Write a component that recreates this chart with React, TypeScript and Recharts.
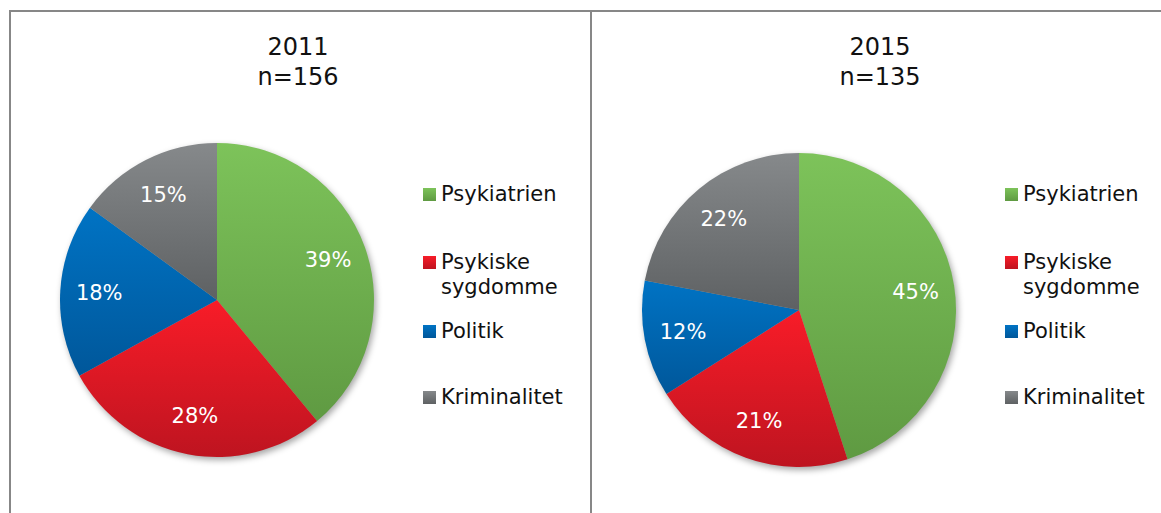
import React from 'react';
import { PieChart, Pie, Cell } from 'recharts';

const categories = ['Psykiatrien', 'Psykiske sygdomme', 'Politik', 'Kriminalitet'];
const legendLines = [['Psykiatrien'], ['Psykiske', 'sygdomme'], ['Politik'], ['Kriminalitet']];
const values2011 = [39, 28, 18, 15];
const values2015 = [45, 21, 12, 22];
const titles = [['2011', 'n=156'], ['2015', 'n=135']];

const colorTop = ['#7dc35a', '#f81c28', '#0073c4', '#86898b'];
const colorBottom = ['#5f9a42', '#be1420', '#00579a', '#5e6163'];

const data2011 = categories.map((name, i) => ({ name, value: values2011[i] }));
const data2015 = categories.map((name, i) => ({ name, value: values2015[i] }));
const shadowData = [{ name: 'shadow', value: 1 }];

const FONT = '"DejaVu Sans", Verdana, sans-serif';
const RAD = Math.PI / 180;

const renderLabel = (props: any) => {
  const { cx, cy, midAngle, value } = props;
  const r = 118;
  const x = cx + r * Math.cos(-midAngle * RAD);
  const y = cy + r * Math.sin(-midAngle * RAD);
  return (
    <text x={x} y={y} fill="#ffffff" textAnchor="middle" dominantBaseline="central"
      style={{ fontFamily: FONT, fontSize: 21 }}>
      {`${value}%`}
    </text>
  );
};

const pies = [
  { data: data2011, cx: 217, cy: 300 },
  { data: data2015, cx: 799, cy: 310 },
];
const R = 157;

const legendTops = [195, 263, 332, 398];
const legendX = [423, 1005];
const titleX = [298, 880];

export default function App() {
  return (
    <div style={{ position: 'absolute', left: 0, top: 0, width: 1161, height: 513, overflow: 'hidden', background: '#fff' }}>
      <div style={{ position: 'absolute', left: 9, top: 10, width: 1200, height: 600, borderLeft: '2px solid #878787', borderTop: '2px solid #878787' }} />
      <div style={{ position: 'absolute', left: 590, top: 10, width: 2, height: 600, background: '#878787' }} />
      {titles.map((t, k) => (
        <div key={k} style={{ position: 'absolute', left: titleX[k] - 100, top: 32, width: 200, textAlign: 'center', fontFamily: FONT, fontSize: 24, lineHeight: '30px', color: '#111' }}>
          <div>{t[0]}</div>
          <div>{t[1]}</div>
        </div>
      ))}
      <div style={{ position: 'absolute', left: 0, top: 0 }}>
        <PieChart width={1161} height={513} margin={{ top: 0, right: 0, bottom: 0, left: 0 }}>
          <defs>
            {categories.map((c, i) => (
              <linearGradient key={c} id={`g${i}`} x1="0" y1="0" x2="0" y2="1">
                <stop offset="0%" stopColor={colorTop[i]} />
                <stop offset="100%" stopColor={colorBottom[i]} />
              </linearGradient>
            ))}
            <filter id="blur" x="-20%" y="-20%" width="140%" height="140%">
              <feGaussianBlur stdDeviation="3" />
            </filter>
          </defs>
          {pies.map((p, k) => (
            <Pie key={`s${k}`} data={shadowData} dataKey="value" cx={p.cx + 2} cy={p.cy + 3} outerRadius={R}
              startAngle={90} endAngle={-270} isAnimationActive={false} stroke="none" label={false} labelLine={false}>
              <Cell fill="rgba(0,0,0,0.35)" filter="url(#blur)" />
            </Pie>
          ))}
          {pies.map((p, k) => (
            <Pie key={`p${k}`} data={p.data} dataKey="value" nameKey="name" cx={p.cx} cy={p.cy} outerRadius={R}
              startAngle={90} endAngle={-270} isAnimationActive={false} stroke="none"
              label={renderLabel} labelLine={false}>
              {p.data.map((d, i) => (
                <Cell key={d.name} fill={`url(#g${i})`} />
              ))}
            </Pie>
          ))}
        </PieChart>
      </div>
      {legendX.map((lx, k) => (
        <div key={k}>
          {legendLines.map((lines, i) => (
            <div key={i} style={{ position: 'absolute', left: lx, top: legendTops[i] - 13, fontFamily: FONT, fontSize: 21, lineHeight: '25px', color: '#111', whiteSpace: 'nowrap' }}>
              <span style={{ position: 'absolute', left: 0, top: 6, width: 13, height: 13, background: `linear-gradient(${colorTop[i]}, ${colorBottom[i]})` }} />
              <div style={{ marginLeft: 18 }}>
                {lines.map((l, j) => <div key={j}>{l}</div>)}
              </div>
            </div>
          ))}
        </div>
      ))}
    </div>
  );
}
